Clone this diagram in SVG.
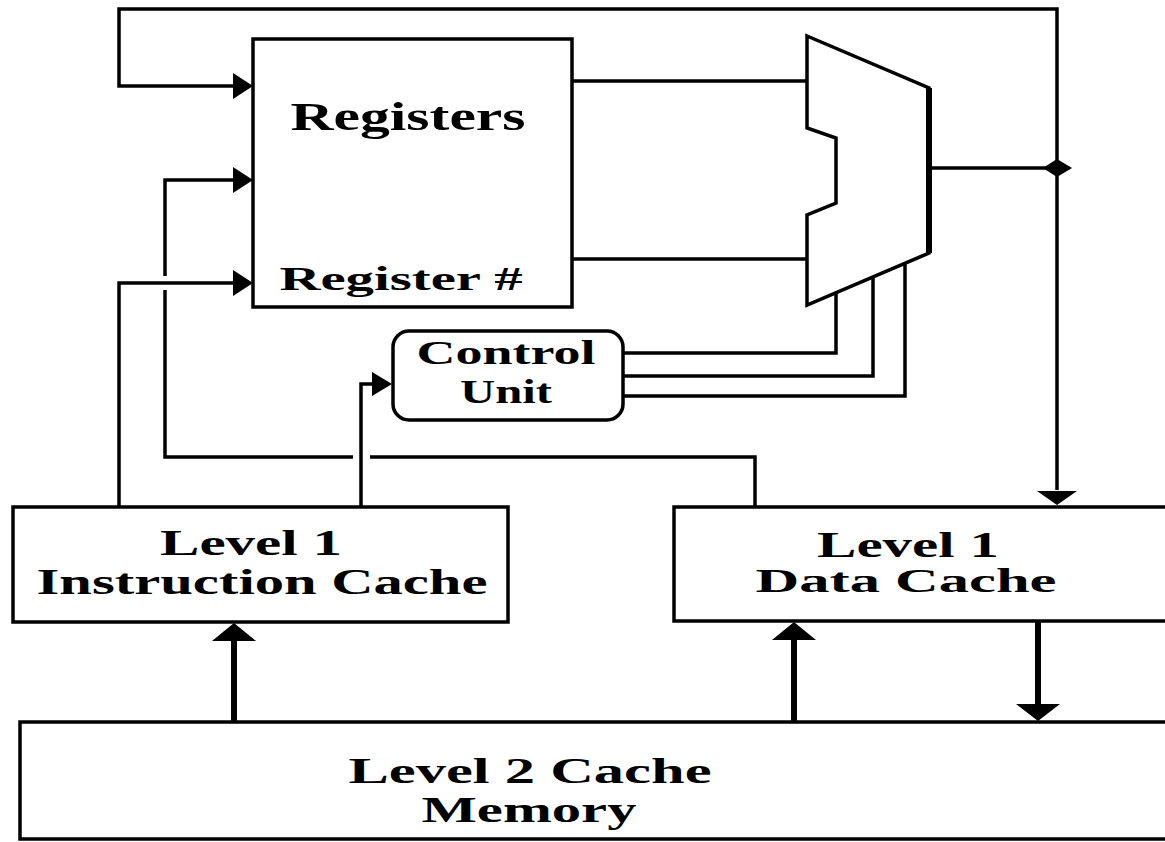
<svg xmlns="http://www.w3.org/2000/svg" width="1165" height="842" viewBox="0 0 1165 842">
<style>
.box{fill:#fff;stroke:#000;stroke-width:3.5}
.ln{fill:none;stroke:#000;stroke-width:3.5;stroke-linejoin:miter}
.thk{fill:none;stroke:#000;stroke-width:6}
.hd{fill:#000;stroke:none}
.t{font-family:"Liberation Serif","Times New Roman",serif;font-weight:bold;fill:#000;text-anchor:middle}
</style>
<rect width="1165" height="842" fill="#fff"/>
<g id="connectors">
  <path class="ln" d="M1057,168 V9 H119 V86 H236"/>
  <polygon class="hd" points="253,86 233,73 233,99"/>
  <path class="ln" d="M755,507 V457 H370 M353,457 H165 V290 M165,276 V180 H236"/>
  <polygon class="hd" points="253,180 233,167 233,193"/>
  <path class="ln" d="M119,507 V283 H236"/>
  <polygon class="hd" points="253,283 233,270 233,296"/>
  <path class="ln" d="M361,507 V384 H376"/>
  <polygon class="hd" points="392,384 372,372 372,396"/>
  <path class="ln" d="M572,81 H807 M572,259 H807"/>
  <path class="ln" d="M929,168 H1057 V490"/>
  <polygon class="hd" points="1057,505 1037,491 1077,491"/>
  <polygon class="hd" points="1043,168 1057,159 1072,168 1057,177"/>
  <path class="ln" d="M623,353 H836 V292 M623,376 H873 V277 M623,396 H905 V264"/>
  <path class="thk" d="M234,722 V636"/>
  <polygon class="hd" points="234,623 212,641 256,641"/>
  <path class="thk" d="M794,722 V636"/>
  <polygon class="hd" points="794,622 772,640 816,640"/>
  <path class="thk" d="M1038,621 V708"/>
  <polygon class="hd" points="1038,721 1016,704 1060,704"/>
</g>
<g id="registers">
  <rect class="box" x="253" y="39" width="319" height="268"/>
  <text class="t" x="408" y="130" font-size="40" textLength="235" lengthAdjust="spacingAndGlyphs">Registers</text>
  <text class="t" x="401" y="290" font-size="34" textLength="243" lengthAdjust="spacingAndGlyphs">Register #</text>
</g>
<g id="alu">
  <path class="ln" d="M807,36 L929,88 V253 L807,305 V215 L836,203 V138 L807,128 Z" style="fill:#fff"/>
  <path d="M929,88 V253" stroke="#000" stroke-width="6" fill="none"/>
</g>
<g id="control-unit">
  <rect class="box" x="393" y="331" width="230" height="89" rx="16" ry="16"/>
  <text class="t" x="506" y="364" font-size="34" textLength="179" lengthAdjust="spacingAndGlyphs">Control</text>
  <text class="t" x="506" y="403" font-size="34" textLength="92" lengthAdjust="spacingAndGlyphs">Unit</text>
</g>
<g id="l1-instruction-cache">
  <rect class="box" x="13" y="507" width="495" height="115"/>
  <text class="t" x="251" y="555" font-size="35" textLength="182" lengthAdjust="spacingAndGlyphs">Level 1</text>
  <text class="t" x="262" y="594" font-size="35" textLength="451" lengthAdjust="spacingAndGlyphs">Instruction Cache</text>
</g>
<g id="l1-data-cache">
  <rect class="box" x="674" y="507" width="500" height="114"/>
  <text class="t" x="908" y="557" font-size="35" textLength="182" lengthAdjust="spacingAndGlyphs">Level 1</text>
  <text class="t" x="906" y="592" font-size="34" textLength="301" lengthAdjust="spacingAndGlyphs">Data Cache</text>
</g>
<g id="l2-cache">
  <rect class="box" x="20" y="722" width="1154" height="117"/>
  <text class="t" x="530" y="783" font-size="35" textLength="363" lengthAdjust="spacingAndGlyphs">Level 2 Cache</text>
  <text class="t" x="529" y="822" font-size="35" textLength="215" lengthAdjust="spacingAndGlyphs">Memory</text>
</g>
</svg>
